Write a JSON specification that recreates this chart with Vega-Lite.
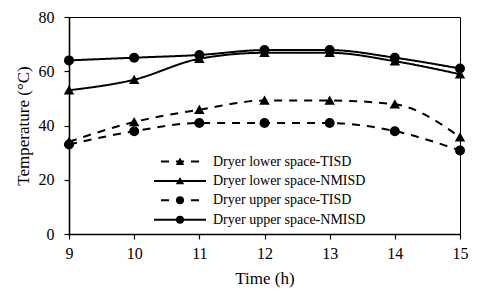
{
  "$schema": "https://vega.github.io/schema/vega-lite/v6.json",
  "width": 391,
  "height": 217,
  "autosize": {"type": "none"},
  "padding": {"left": 69, "top": 17, "right": 20, "bottom": 58},
  "background": "white",
  "config": {
    "view": {"stroke": "black", "strokeWidth": 1},
    "font": "Liberation Serif",
    "axis": {
      "grid": false,
      "labelFlush": false,
      "domainColor": "black",
      "domainWidth": 1.6,
      "tickColor": "black",
      "tickWidth": 1.2,
      "tickSize": 5,
      "labelFont": "Liberation Serif",
      "labelFontSize": 16,
      "labelColor": "black",
      "titleFont": "Liberation Serif",
      "titleFontSize": 17,
      "titleFontWeight": "normal",
      "titleColor": "black"
    }
  },
  "data": {
    "values": [
      {"series": "Dryer lower space-TISD", "time": 9, "temp": 34},
      {"series": "Dryer lower space-TISD", "time": 10, "temp": 41.3},
      {"series": "Dryer lower space-TISD", "time": 11, "temp": 45.8},
      {"series": "Dryer lower space-TISD", "time": 12, "temp": 49.2},
      {"series": "Dryer lower space-TISD", "time": 13, "temp": 49.2},
      {"series": "Dryer lower space-TISD", "time": 14, "temp": 47.8},
      {"series": "Dryer lower space-TISD", "time": 15, "temp": 35.7},
      {"series": "Dryer lower space-NMISD", "time": 9, "temp": 53},
      {"series": "Dryer lower space-NMISD", "time": 10, "temp": 56.9},
      {"series": "Dryer lower space-NMISD", "time": 11, "temp": 64.6},
      {"series": "Dryer lower space-NMISD", "time": 12, "temp": 66.8},
      {"series": "Dryer lower space-NMISD", "time": 13, "temp": 66.8},
      {"series": "Dryer lower space-NMISD", "time": 14, "temp": 63.7},
      {"series": "Dryer lower space-NMISD", "time": 15, "temp": 58.9},
      {"series": "Dryer upper space-TISD", "time": 9, "temp": 33},
      {"series": "Dryer upper space-TISD", "time": 10, "temp": 37.9},
      {"series": "Dryer upper space-TISD", "time": 11, "temp": 40.9},
      {"series": "Dryer upper space-TISD", "time": 12, "temp": 40.9},
      {"series": "Dryer upper space-TISD", "time": 13, "temp": 40.9},
      {"series": "Dryer upper space-TISD", "time": 14, "temp": 37.9},
      {"series": "Dryer upper space-TISD", "time": 15, "temp": 30.8},
      {"series": "Dryer upper space-NMISD", "time": 9, "temp": 64},
      {"series": "Dryer upper space-NMISD", "time": 10, "temp": 65},
      {"series": "Dryer upper space-NMISD", "time": 11, "temp": 66},
      {"series": "Dryer upper space-NMISD", "time": 12, "temp": 67.8},
      {"series": "Dryer upper space-NMISD", "time": 13, "temp": 67.8},
      {"series": "Dryer upper space-NMISD", "time": 14, "temp": 65},
      {"series": "Dryer upper space-NMISD", "time": 15, "temp": 61}
    ]
  },
  "encoding": {
    "x": {
      "field": "time",
      "type": "quantitative",
      "scale": {"domain": [9, 15], "nice": false, "zero": false},
      "axis": {"title": "Time (h)", "values": [9, 10, 11, 12, 13, 14, 15], "labelPadding": 6, "titlePadding": 9}
    },
    "y": {
      "field": "temp",
      "type": "quantitative",
      "scale": {"domain": [0, 80], "nice": false},
      "axis": {"title": "Temperature (°C)", "values": [0, 20, 40, 60, 80], "labelPadding": 10, "titlePadding": 6}
    }
  },
  "layer": [
    {
      "mark": {"type": "line", "interpolate": "monotone", "color": "black", "strokeWidth": 2},
      "encoding": {
        "detail": {"field": "series", "type": "nominal"},
        "strokeDash": {
          "field": "series",
          "type": "nominal",
          "scale": {
            "domain": ["Dryer lower space-TISD", "Dryer lower space-NMISD", "Dryer upper space-TISD", "Dryer upper space-NMISD"],
            "range": [[8, 7], [1, 0], [8, 7], [1, 0]]
          },
          "legend": {
            "title": null,
            "orient": "none",
            "legendX": 104,
            "legendY": 137.5,
            "padding": 0,
            "symbolType": "M-6.5,0L6.5,0",
            "symbolSize": 64,
            "symbolStrokeColor": "black",
            "symbolStrokeWidth": 2,
            "symbolDashOffset": 8,
            "labelFont": "Liberation Serif",
            "labelFontSize": 14,
            "labelColor": "black",
            "labelExpr": "' '",
            "labelOffset": 26,
            "labelLimit": 300,
            "rowPadding": 5.4
          }
        }
      }
    },
    {
      "mark": {"type": "point", "filled": true, "color": "black", "size": 100, "opacity": 1},
      "encoding": {
        "shape": {
          "field": "series",
          "type": "nominal",
          "scale": {
            "domain": ["Dryer lower space-TISD", "Dryer lower space-NMISD", "Dryer upper space-TISD", "Dryer upper space-NMISD"],
            "range": ["M0,-1L1.05,0.85L-1.05,0.85Z", "M0,-1L1.05,0.85L-1.05,0.85Z", "circle", "circle"]
          },
          "legend": {
            "title": null,
            "orient": "none",
            "legendX": 104,
            "legendY": 137.5,
            "padding": 0,
            "symbolSize": 64,
            "symbolFillColor": "black",
            "labelFont": "Liberation Serif",
            "labelFontSize": 14,
            "labelColor": "black",
            "labelOffset": 26,
            "labelLimit": 300,
            "rowPadding": 5.4
          }
        }
      }
    }
  ],
  "resolve": {"legend": {"shape": "independent", "strokeDash": "independent"}}
}
